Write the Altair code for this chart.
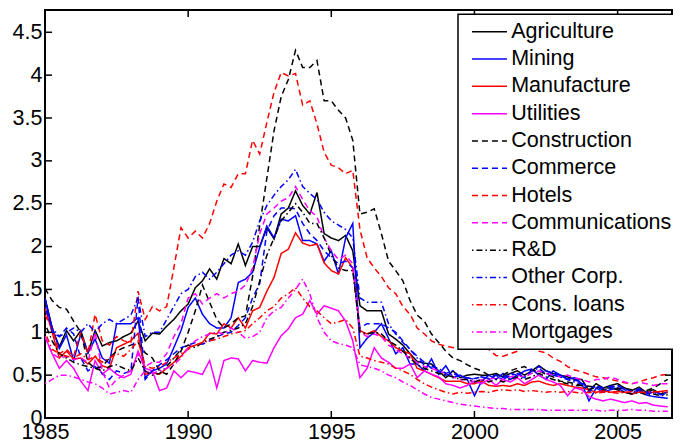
import altair as alt
import pandas as pd

quarters = [1985 + q / 4 for q in range(88)]

series_names = ["Agriculture", "Mining", "Manufacture", "Utilities", "Construction",
                "Commerce", "Hotels", "Communications", "R&D", "Other Corp.",
                "Cons. loans", "Mortgages"]

agriculture = [1.40, 1.05, 0.83, 1.02, 0.90, 1.02, 0.76, 1.02, 0.84, 0.88, 0.90, 0.95,
               0.99, 1.13, 0.90, 0.99, 0.98, 1.07, 1.15, 1.25, 1.33, 1.52, 1.60, 1.74,
               1.62, 1.86, 1.80, 2.03, 1.78, 2.00, 2.00, 2.22, 2.09, 2.38, 2.45, 2.65,
               2.48, 2.38, 2.63, 2.15, 2.10, 2.07, 2.13, 1.95, 1.31, 1.25, 1.25, 1.25,
               0.98, 0.92, 0.85, 0.75, 0.66, 0.64, 0.63, 0.55, 0.47, 0.55, 0.47, 0.50,
               0.51, 0.50, 0.50, 0.52, 0.48, 0.52, 0.55, 0.50, 0.55, 0.61, 0.55, 0.52,
               0.50, 0.48, 0.45, 0.45, 0.32, 0.40, 0.35, 0.38, 0.40, 0.35, 0.32, 0.36,
               0.30, 0.33, 0.28, 0.30]
mining = [1.39, 1.05, 0.81, 0.97, 0.67, 0.98, 0.76, 0.92, 0.70, 0.64, 1.10, 1.10,
          1.10, 1.17, 0.47, 0.55, 0.58, 0.63, 0.82, 1.02, 1.29, 1.40, 1.21, 1.10,
          1.05, 1.05, 1.17, 1.58, 1.62, 1.70, 1.99, 2.24, 2.10, 2.32, 2.30, 2.36,
          2.07, 2.07, 2.03, 1.83, 1.95, 1.68, 2.10, 2.27, 0.82, 0.93, 1.00, 1.10,
          0.93, 0.75, 0.82, 0.63, 0.63, 0.55, 0.69, 0.51, 0.61, 0.47, 0.50, 0.45,
          0.26, 0.43, 0.50, 0.45, 0.52, 0.45, 0.50, 0.55, 0.57, 0.50, 0.45, 0.55,
          0.50, 0.45, 0.47, 0.40, 0.20, 0.35, 0.30, 0.33, 0.35, 0.30, 0.28, 0.32,
          0.27, 0.25, 0.24, 0.23]
manufacture = [1.29, 1.00, 0.70, 0.78, 0.69, 0.70, 0.63, 0.72, 0.61, 0.58, 0.82, 0.86,
               0.90, 0.99, 0.51, 0.53, 0.51, 0.58, 0.65, 0.72, 0.82, 0.85, 0.88, 0.99,
               0.98, 1.10, 1.05, 1.17, 1.05, 1.25, 1.29, 1.48, 1.64, 1.92, 1.97, 2.16,
               2.04, 2.01, 2.03, 1.81, 1.72, 1.68, 1.87, 1.75, 1.02, 0.98, 1.02, 0.95,
               0.90, 0.82, 0.78, 0.75, 0.58, 0.55, 0.51, 0.47, 0.43, 0.43, 0.43, 0.40,
               0.40, 0.43, 0.38, 0.37, 0.38, 0.37, 0.40, 0.38, 0.42, 0.43, 0.40, 0.38,
               0.40, 0.38, 0.36, 0.35, 0.33, 0.30, 0.32, 0.30, 0.31, 0.30, 0.28, 0.30,
               0.29, 0.30, 0.31, 0.32]
utilities = [0.95, 0.75, 0.58, 0.67, 0.58, 0.43, 0.32, 0.67, 0.51, 0.58, 0.51, 0.47,
             0.51, 0.78, 0.58, 0.55, 0.32, 0.35, 0.55, 0.47, 0.55, 0.53, 0.51, 0.67,
             0.35, 0.67, 0.70, 0.69, 0.55, 0.67, 0.65, 0.64, 0.82, 0.96, 1.04, 1.17,
             1.21, 1.37, 1.21, 1.31, 1.28, 1.25, 1.13, 0.90, 0.47, 0.58, 0.82, 0.70,
             0.65, 0.58, 0.58, 0.63, 0.47, 0.55, 0.51, 0.48, 0.40, 0.38, 0.35, 0.38,
             0.43, 0.40, 0.45, 0.38, 0.45, 0.42, 0.47, 0.40, 0.45, 0.50, 0.45, 0.42,
             0.38, 0.26, 0.35, 0.33, 0.25, 0.22, 0.20, 0.22, 0.20, 0.18, 0.20, 0.17,
             0.18, 0.15, 0.14, 0.13]
construction = [1.51, 1.37, 1.29, 1.27, 1.13, 1.00, 0.65, 0.58, 0.60, 0.70, 0.78, 0.82,
                0.85, 0.88, 0.76, 0.70, 0.55, 0.51, 0.63, 0.78, 1.00, 1.25, 1.55, 1.35,
                1.15, 1.05, 1.10, 1.17, 1.19, 1.65, 2.25, 2.80, 3.35, 3.75, 3.95, 4.29,
                4.09, 4.09, 4.17, 3.70, 3.70, 3.59, 3.50, 3.24, 2.38, 2.40, 2.44, 2.15,
                1.83, 1.72, 1.60, 1.37, 1.20, 1.13, 0.98, 0.88, 0.78, 0.70, 0.67, 0.62,
                0.58, 0.55, 0.50, 0.50, 0.50, 0.55, 0.58, 0.60, 0.55, 0.55, 0.51, 0.48,
                0.43, 0.42, 0.40, 0.38, 0.37, 0.36, 0.35, 0.35, 0.35, 0.34, 0.33, 0.33,
                0.32, 0.35, 0.40, 0.45]
commerce = [1.40, 1.00, 0.95, 1.05, 0.98, 0.70, 0.55, 0.60, 0.52, 0.45, 0.55, 0.52,
            0.55, 1.40, 0.45, 0.55, 0.62, 0.68, 0.75, 0.82, 0.85, 0.88, 0.86, 0.90,
            0.95, 0.98, 1.00, 1.08, 1.17, 1.40, 1.57, 2.18, 2.36, 2.45, 2.45, 2.44,
            2.27, 2.15, 2.07, 1.95, 1.87, 1.80, 1.83, 1.75, 1.05, 1.10, 1.10, 1.10,
            1.05, 1.00, 0.90, 0.80, 0.72, 0.65, 0.58, 0.55, 0.50, 0.52, 0.48, 0.47,
            0.46, 0.48, 0.46, 0.50, 0.47, 0.52, 0.50, 0.47, 0.55, 0.60, 0.55, 0.52,
            0.50, 0.46, 0.44, 0.42, 0.33, 0.38, 0.35, 0.37, 0.38, 0.34, 0.31, 0.34,
            0.30, 0.31, 0.28, 0.30]
hotels = [1.20, 1.05, 0.75, 0.80, 0.72, 1.00, 0.75, 1.21, 0.90, 0.85, 0.95, 0.90,
          0.88, 1.48, 1.15, 1.30, 1.25, 1.30, 1.75, 2.22, 2.10, 2.18, 2.10, 2.27,
          2.53, 2.73, 2.69, 2.85, 2.85, 3.24, 3.08, 3.45, 3.80, 4.03, 3.99, 4.02,
          3.65, 3.70, 3.43, 3.10, 2.95, 2.92, 2.85, 2.89, 2.20, 1.87, 1.75, 1.65,
          1.52, 1.45, 1.30, 1.21, 1.05, 0.98, 0.90, 0.86, 0.84, 0.82, 0.84, 0.86,
          0.85, 0.88, 0.80, 0.73, 0.72, 0.75, 0.78, 0.82, 0.84, 0.78, 0.76, 0.70,
          0.66, 0.60, 0.56, 0.54, 0.51, 0.48, 0.47, 0.45, 0.43, 0.41, 0.40, 0.42,
          0.45, 0.47, 0.50, 0.51]
communications = [0.95, 0.75, 0.70, 0.72, 0.68, 0.70, 0.65, 1.00, 0.55, 0.35, 0.45, 0.50,
                  0.55, 0.75, 0.60, 0.65, 0.65, 0.75, 0.95, 1.10, 1.40, 1.45, 1.33, 1.40,
                  1.45, 1.40, 1.45, 1.48, 1.55, 1.75, 2.15, 2.38, 2.45, 2.53, 2.57, 2.70,
                  2.55, 2.42, 2.35, 2.10, 1.95, 1.85, 1.90, 1.80, 1.00, 0.95, 0.98, 0.95,
                  0.85, 0.80, 0.75, 0.70, 0.65, 0.60, 0.58, 0.55, 0.52, 0.48, 0.45, 0.45,
                  0.42, 0.45, 0.45, 0.47, 0.45, 0.48, 0.50, 0.48, 0.52, 0.55, 0.52, 0.50,
                  0.48, 0.50, 0.47, 0.45, 0.42, 0.45, 0.45, 0.48, 0.45, 0.42, 0.40, 0.42,
                  0.40, 0.38, 0.40, 0.40]
rnd = [1.10, 0.90, 0.75, 0.70, 0.65, 0.62, 0.60, 0.58, 0.55, 0.60, 0.62, 0.58,
       0.55, 0.70, 0.55, 0.50, 0.52, 0.60, 0.70, 0.80, 0.85, 0.82, 0.88, 0.92,
       0.95, 1.00, 1.02, 1.05, 1.10, 1.30, 1.60, 1.90, 2.10, 2.30, 2.40, 2.50,
       2.40, 2.27, 2.27, 2.10, 1.90, 1.75, 1.72, 1.72, 1.00, 0.98, 1.00, 0.98,
       0.90, 0.85, 0.78, 0.70, 0.62, 0.58, 0.55, 0.52, 0.50, 0.48, 0.45, 0.45,
       0.42, 0.45, 0.42, 0.45, 0.42, 0.45, 0.48, 0.45, 0.48, 0.52, 0.48, 0.45,
       0.42, 0.40, 0.38, 0.38, 0.33, 0.36, 0.33, 0.35, 0.33, 0.30, 0.28, 0.30,
       0.27, 0.28, 0.26, 0.27]
other_corp = [1.30, 1.05, 0.95, 1.00, 1.05, 1.00, 1.10, 1.00, 1.10, 1.15, 1.10, 1.15,
              1.20, 1.40, 0.95, 1.00, 1.00, 1.15, 1.30, 1.45, 1.50, 1.65, 1.70, 1.62,
              1.70, 1.80, 1.90, 1.95, 1.90, 2.05, 2.30, 2.48, 2.60, 2.70, 2.78, 2.90,
              2.70, 2.62, 2.55, 2.40, 2.30, 2.25, 2.20, 2.10, 1.40, 1.35, 1.35, 1.35,
              1.10, 0.98, 0.88, 0.80, 0.70, 0.62, 0.60, 0.58, 0.52, 0.55, 0.48, 0.47,
              0.45, 0.48, 0.45, 0.50, 0.45, 0.50, 0.52, 0.48, 0.55, 0.58, 0.52, 0.50,
              0.48, 0.45, 0.42, 0.40, 0.30, 0.38, 0.32, 0.35, 0.38, 0.33, 0.30, 0.33,
              0.28, 0.30, 0.27, 0.28]
cons_loans = [1.00, 0.80, 0.75, 0.72, 0.70, 0.75, 0.68, 0.72, 0.65, 0.70, 0.75, 0.72,
              0.80, 0.90, 0.60, 0.58, 0.60, 0.65, 0.70, 0.75, 0.80, 0.85, 0.88, 0.90,
              0.92, 0.95, 0.98, 1.00, 1.02, 1.10, 1.17, 1.25, 1.30, 1.40, 1.45, 1.52,
              1.40, 1.30, 1.25, 1.17, 1.10, 1.12, 1.15, 1.05, 0.72, 0.70, 0.67, 0.65,
              0.63, 0.58, 0.55, 0.51, 0.45, 0.40, 0.36, 0.33, 0.30, 0.28, 0.30, 0.29,
              0.30, 0.31, 0.30, 0.32, 0.33, 0.32, 0.33, 0.31, 0.32, 0.31, 0.30, 0.31,
              0.30, 0.31, 0.30, 0.29, 0.30, 0.29, 0.30, 0.30, 0.29, 0.30, 0.31, 0.30,
              0.30, 0.31, 0.30, 0.30]
mortgages = [0.40, 0.45, 0.50, 0.50, 0.48, 0.45, 0.42, 0.40, 0.35, 0.28, 0.30, 0.32,
             0.30, 0.45, 0.55, 0.52, 0.55, 0.58, 0.62, 0.70, 0.82, 0.90, 0.95, 0.98,
             1.00, 0.98, 1.05, 1.00, 0.93, 0.95, 1.00, 1.17, 1.25, 1.29, 1.40, 1.50,
             1.62, 1.45, 1.17, 1.00, 0.90, 0.87, 0.85, 0.82, 0.62, 0.60, 0.58, 0.55,
             0.50, 0.47, 0.42, 0.38, 0.33, 0.28, 0.24, 0.22, 0.20, 0.18, 0.16, 0.15,
             0.14, 0.13, 0.12, 0.11, 0.11, 0.10, 0.10, 0.10, 0.10, 0.10, 0.09, 0.09,
             0.09, 0.09, 0.09, 0.09, 0.09, 0.09, 0.08, 0.09, 0.09, 0.09, 0.10, 0.09,
             0.09, 0.08, 0.08, 0.08]

all_values = [agriculture, mining, manufacture, utilities, construction, commerce,
              hotels, communications, rnd, other_corp, cons_loans, mortgages]

x_tick_values = [1985, 1990, 1995, 2000, 2005]
y_tick_values = [0, 0.5, 1, 1.5, 2, 2.5, 3, 3.5, 4, 4.5]

line_colors = ["#000000", "#0000ff", "#ff0000", "#ff00ff"] * 3
line_dashes = [[1, 0]] * 4 + [[6, 4]] * 4 + [[1.5, 3, 6, 3]] * 4

rows = []
for si, name in enumerate(series_names):
    for t, v in zip(quarters, all_values[si]):
        rows.append({"t": t, "v": v, "series": name, "order": si})
df = pd.DataFrame(rows)

W, H = 627, 408
FONT = "Liberation Sans"
FS = 21.5

xscale = alt.Scale(domain=[1985, 2006.9], nice=False, zero=False)
yscale = alt.Scale(domain=[0, 4.76], nice=False, zero=True)
xaxis = alt.Axis(values=x_tick_values, format="d", title=None, ticks=False, domain=False,
                 grid=False, labelFontSize=FS, labelFont=FONT, labelColor="black",
                 labelPadding=3, labelFlush=False, labelOverlap=False)
yaxis = alt.Axis(values=y_tick_values, labelExpr="'' + datum.value", title=None, ticks=False,
                 domain=False, grid=False, labelFontSize=FS, labelFont=FONT,
                 labelColor="black", labelPadding=3, labelOverlap=False)

xenc = alt.X("t:Q", scale=xscale, axis=xaxis)
yenc = alt.Y("v:Q", scale=yscale, axis=yaxis)

lines = alt.Chart(df).mark_line(strokeWidth=1.5, clip=True).encode(
    x=xenc,
    y=yenc,
    color=alt.Color("series:N", sort=series_names,
                    scale=alt.Scale(domain=series_names, range=line_colors),
                    legend=alt.Legend(title=None)),
    strokeDash=alt.StrokeDash("series:N", sort=series_names,
                              scale=alt.Scale(domain=series_names, range=line_dashes),
                              legend=alt.Legend(title=None)),
    order=alt.Order("t:Q"),
)

xt = pd.DataFrame({"t": x_tick_values})
yt = pd.DataFrame({"v": y_tick_values})

tick_b = alt.Chart(xt).mark_rule(color="black", strokeWidth=1.5).encode(
    x=xenc, y=alt.value(H), y2=alt.value(H - 7))
tick_t = alt.Chart(xt).mark_rule(color="black", strokeWidth=1.5).encode(
    x=xenc, y=alt.value(0), y2=alt.value(7))
tick_l = alt.Chart(yt).mark_rule(color="black", strokeWidth=1.5).encode(
    y=yenc, x=alt.value(0), x2=alt.value(7))
tick_r = alt.Chart(yt).mark_rule(color="black", strokeWidth=1.5).encode(
    y=yenc, x=alt.value(W), x2=alt.value(W - 7))

chart = alt.layer(lines, tick_b, tick_t, tick_l, tick_r).properties(
    width=W, height=H,
    autosize=alt.AutoSizeParams(type="none"),
    padding={"left": 37, "top": 2, "right": 1, "bottom": 24},
    background="white",
).configure_view(
    stroke="black", strokeWidth=2
).configure_legend(
    orient="none", legendX=413, legendY=4.3,
    fillColor="white", strokeColor="black", strokeWidth=1.5,
    padding=6.7, rowPadding=4.3,
    labelFont=FONT, labelFontSize=FS, labelColor="black", labelLimit=400,
    labelOffset=25,
    symbolType="M-1,0H9", symbolSize=49, symbolStrokeWidth=1.5,
)

chart.save("out.html", embed_options={"renderer": "svg", "actions": False})
